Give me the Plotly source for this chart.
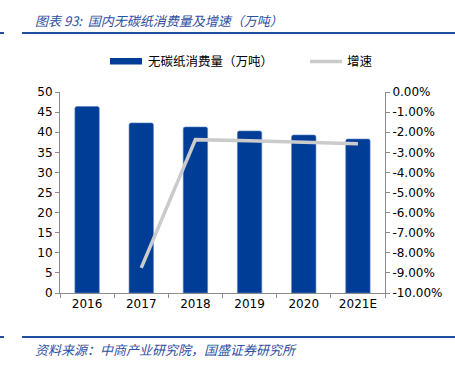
import plotly.graph_objects as go

categories = ["2016", "2017", "2018", "2019", "2020", "2021E"]
consumption = [46.4, 42.3, 41.3, 40.3, 39.3, 38.3]
growth = [None, -8.75, -2.37, -2.42, -2.5, -2.57]

left_ticks = list(range(0, 51, 5))
right_ticks = list(range(-10, 1, 1))
right_labels = [f"{v:.2f}%" for v in right_ticks]

bar_name = "无碳纸消费量（万吨）"
line_name = "增速"

W, H = 455, 367
L, R, T, B = 60, 70, 92, 74
pw, ph = W - L - R, H - T - B

def px(x):
    return (x - L) / pw

def py(y):
    return (H - B - y) / ph

font_main = "DejaVu Sans, Verdana, sans-serif"
font_cjk = "Noto Sans CJK SC, sans-serif"
blue = "#003d96"
title_blue = "#2f4f9f"
gray_line = "#cbcbcb"

fig = go.Figure()
fig.add_trace(go.Bar(
    x=categories, y=consumption, name=bar_name,
    marker=dict(color=blue, line=dict(color="#5a7fc0", width=0.6), cornerradius=2),
    width=0.45, yaxis="y", showlegend=False,
))
fig.add_trace(go.Scatter(
    x=categories, y=growth, name=line_name, mode="lines",
    line=dict(color=gray_line, width=3.5), yaxis="y2",
    connectgaps=False, showlegend=False,
))

axis_common = dict(
    showgrid=False, zeroline=False, showline=True, linecolor="#8c8c8c", linewidth=1,
    ticks="outside", ticklen=4, tickcolor="#8c8c8c",
    tickfont=dict(family=font_main, size=12, color="#000000"),
)

line_blue = "#1f4e9e"
fig.update_layout(
    width=W, height=H,
    margin=dict(l=L, r=R, t=T, b=B, autoexpand=False),
    paper_bgcolor="white", plot_bgcolor="white",
    xaxis=dict(**axis_common, type="category", range=[-0.5, 5.5], tickson="boundaries"),
    yaxis=dict(**axis_common, range=[0, 50], tickvals=left_ticks),
    yaxis2=dict(**axis_common, range=[-10, 0], tickvals=right_ticks, ticktext=right_labels,
                overlaying="y", side="right"),
    showlegend=False,
    annotations=[
        dict(text="<i>图表 93:  国内无碳纸消费量及增速（万吨）</i>", xref="paper", yref="paper",
             x=px(33), y=py(21), xanchor="left", yanchor="middle", showarrow=False,
             font=dict(family=font_cjk, size=13, color=title_blue, style="italic")),
        dict(text="<i>资料来源：中商产业研究院，国盛证券研究所</i>", xref="paper", yref="paper",
             x=px(33), y=py(349), xanchor="left", yanchor="middle", showarrow=False,
             font=dict(family=font_cjk, size=13, color=title_blue, style="italic")),
        dict(text=bar_name, xref="paper", yref="paper",
             x=px(146), y=py(61), xanchor="left", yanchor="middle", showarrow=False,
             font=dict(family=font_cjk, size=12.5, color="#000000")),
        dict(text=line_name, xref="paper", yref="paper",
             x=px(345), y=py(61), xanchor="left", yanchor="middle", showarrow=False,
             font=dict(family=font_cjk, size=12.5, color="#000000")),
    ],
    shapes=[
        dict(type="line", xref="paper", yref="paper", x0=px(22), x1=px(455), y0=py(33), y1=py(33),
             line=dict(color=line_blue, width=2)),
        dict(type="line", xref="paper", yref="paper", x0=px(0), x1=px(4), y0=py(33), y1=py(33),
             line=dict(color=line_blue, width=2)),
        dict(type="line", xref="paper", yref="paper", x0=px(22), x1=px(455), y0=py(337), y1=py(337),
             line=dict(color=line_blue, width=2)),
        dict(type="line", xref="paper", yref="paper", x0=px(0), x1=px(4), y0=py(337), y1=py(337),
             line=dict(color=line_blue, width=2)),
        dict(type="rect", xref="paper", yref="paper", x0=px(110), x1=px(142), y0=py(58), y1=py(64.5),
             fillcolor=blue, line=dict(width=0)),
        dict(type="line", xref="paper", yref="paper", x0=px(310), x1=px(342), y0=py(61.5), y1=py(61.5),
             line=dict(color=gray_line, width=3.5)),
    ],
)

fig.write_html("out.html", post_script="document.body.style.margin='0';",
               config={"displayModeBar": False})
